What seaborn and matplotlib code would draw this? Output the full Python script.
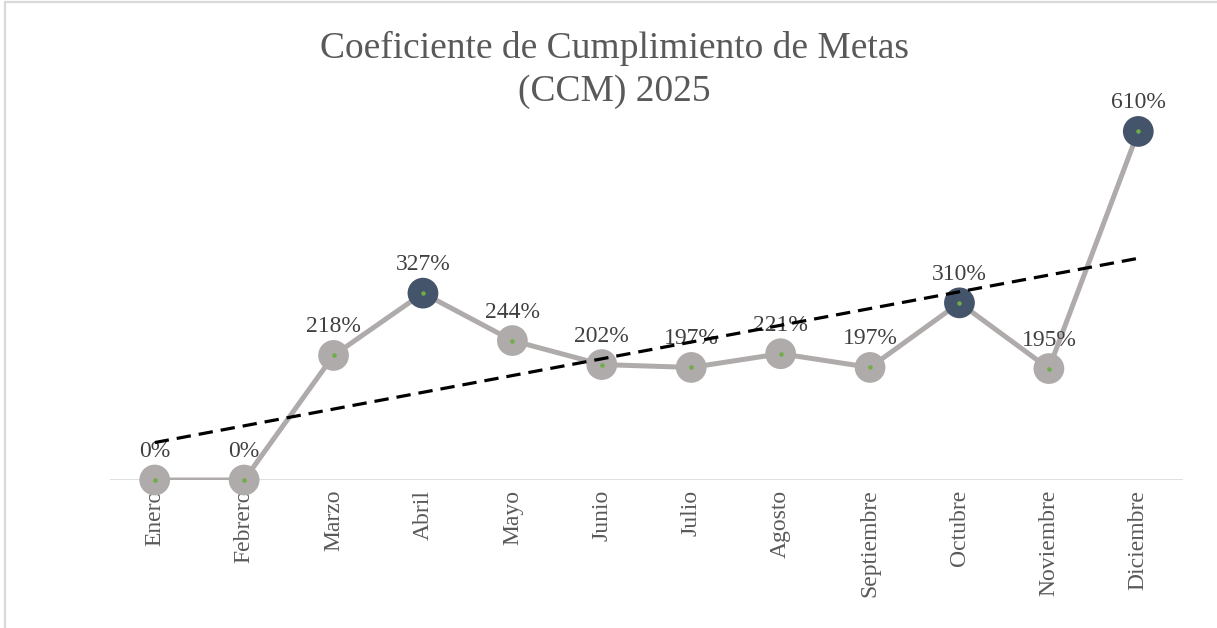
import numpy as np
import pandas as pd
import matplotlib.pyplot as plt
import matplotlib.patches as mpatches
import seaborn as sns

# ================= DATOS =================
meses = ["Enero", "Febrero", "Marzo", "Abril", "Mayo", "Junio", "Julio",
         "Agosto", "Septiembre", "Octubre", "Noviembre", "Diciembre"]
ccm = [0, 0, 218, 327, 244, 202, 197, 221, 197, 310, 195, 610]
destacados = ["Abril", "Octubre", "Diciembre"]

df = pd.DataFrame({"mes": meses, "ccm": ccm})
df["pos"] = np.arange(len(df))
df["destacado"] = df["mes"].isin(destacados)

GRIS = "#AFABAB"
AZUL = "#44546A"
VERDE = "#70AD47"

sns.set_style("white")
plt.rcParams["font.family"] = ["Liberation Serif", "DejaVu Serif"]

fig = plt.figure(figsize=(12.17, 6.28), dpi=100)
ax = fig.add_axes([110 / 1217, 1 - 480 / 628, (1183 - 110) / 1217, 400 / 628])

# marco del grafico
fig.patches.append(mpatches.Rectangle((5 / 1217, -0.1), 1.2, 1 - 2 / 628 + 0.1,
                                      transform=fig.transFigure, fill=False,
                                      edgecolor="#D9D9D9", linewidth=1.6))

# linea base
ax.axhline(0, color="#D9D9D9", lw=1.2, zorder=1)

# serie
sns.lineplot(data=df, x="pos", y="ccm", color=GRIS, lw=3.6, ax=ax, zorder=2)
sns.scatterplot(data=df, x="pos", y="ccm", hue="destacado",
                palette={False: GRIS, True: AZUL}, s=490, linewidth=0,
                legend=False, ax=ax, zorder=3, clip_on=False)
ax.scatter(df["pos"], df["ccm"], s=5, color=VERDE, zorder=4, clip_on=False)

# etiquetas de datos
for x, y in zip(df["pos"], df["ccm"]):
    ax.annotate(f"{y}%", (x, y), xytext=(0, 13), textcoords="offset points",
                ha="center", va="bottom", fontsize=17, color="#404040", zorder=5)

# linea de tendencia (lineal)
sns.regplot(data=df, x="pos", y="ccm", scatter=False, ci=None, truncate=True, ax=ax,
            line_kws=dict(color="black", lw=2.3, dashes=(4.5, 2.5), zorder=6))

ax.set_xlim(-0.5, 11.5)
ax.set_ylim(0, 700)
ax.set_xticks(df["pos"])
ax.set_xticklabels(meses, rotation=90, fontsize=17, color="#595959")
ax.tick_params(axis="x", length=0, pad=7)
ax.set_yticks([])
ax.set_xlabel("")
ax.set_ylabel("")
sns.despine(ax=ax, left=True, bottom=True)

fig.text(614 / 1217, 1 - 70 / 628, "Coeficiente de Cumplimiento de Metas\n(CCM) 2025",
         ha="center", va="center", fontsize=27, color="#595959", linespacing=1.3)

fig.savefig("out.png", dpi=100)
